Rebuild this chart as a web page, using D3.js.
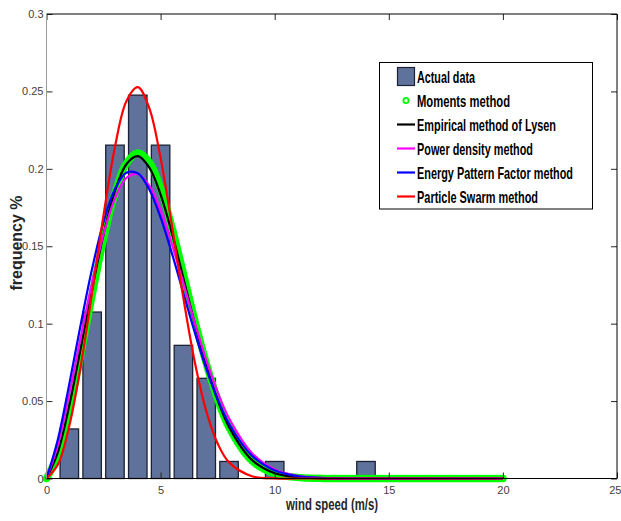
<!DOCTYPE html>
<html>
<head>
<meta charset="utf-8">
<script src="https://cdn.jsdelivr.net/npm/d3@7"></script>
<style>
  body { margin: 0; background: #fff; }
  svg { display: block; }
</style>
</head>
<body>
<script>
// histogram of measured wind speed
let windSpeed = [1, 2, 3, 4, 5, 6, 7, 8, 10, 14];
let frequency = [0.032, 0.1075, 0.2153, 0.2476, 0.2153, 0.086, 0.0647, 0.011, 0.011, 0.011];

// fitted distributions
let curveX = [0, 0.5, 1, 1.5, 2, 2.5, 3, 3.5, 4, 4.5, 5, 5.5, 6, 6.5, 7, 7.5, 8, 9, 10, 11, 12, 14, 16, 18, 20];
let moments = [0, 0.0153, 0.0440, 0.0799, 0.1183, 0.1545, 0.1841, 0.2034, 0.2102, 0.2043, 0.1873, 0.1620, 0.1323, 0.1021, 0.0744, 0.0511, 0.0330, 0.0115, 0.0031, 0.0007, 0.0001, 0, 0, 0, 0];
let lysen = [0, 0.0170, 0.0473, 0.0841, 0.1224, 0.1576, 0.1856, 0.2030, 0.2082, 0.2010, 0.1834, 0.1583, 0.1293, 0.1000, 0.0732, 0.0507, 0.0332, 0.0120, 0.0034, 0.0008, 0.0001, 0, 0, 0, 0];
let powerDensity = [0, 0.0218, 0.0547, 0.0912, 0.1268, 0.1577, 0.1809, 0.1941, 0.1966, 0.1891, 0.1731, 0.1511, 0.1260, 0.1004, 0.0765, 0.0558, 0.0389, 0.0165, 0.0058, 0.0017, 0.0004, 0, 0, 0, 0];
let energyPattern = [0, 0.0253, 0.0611, 0.0995, 0.1356, 0.1658, 0.1870, 0.1975, 0.1971, 0.1868, 0.1686, 0.1452, 0.1196, 0.0942, 0.0710, 0.0512, 0.0354, 0.0148, 0.0052, 0.0015, 0.0004, 0, 0, 0, 0];
let particleSwarm = [0, 0.0090, 0.0341, 0.0725, 0.1201, 0.1701, 0.2141, 0.2437, 0.2528, 0.2394, 0.2069, 0.1629, 0.1163, 0.0751, 0.0436, 0.0226, 0.0104, 0.0015, 0.0001, 0, 0, 0, 0, 0, 0];

let xTicks = [0, 5, 10, 15, 20, 25];
let xTickLabels = ["0", "5", "10", "15", "20", "25"];
let yTicks = [0, 0.05, 0.1, 0.15, 0.2, 0.25, 0.3];
let yTickLabels = ["0", "0.05", "0.1", "0.15", "0.2", "0.25", "0.3"];

let legendNames = ["Actual data", "Moments  method", "Empirical method of Lysen", "Power density method", "Energy Pattern Factor method", "Particle Swarm method"];

let barColor = "#5f729b";
let narrow = "'Liberation Sans Narrow', 'Arial Narrow', 'Liberation Sans', Arial, sans-serif";
let bold = "'Liberation Sans', Arial, sans-serif";

let svg = d3.select("body").append("svg")
    .attr("width", 621)
    .attr("height", 521);

let x = d3.scaleLinear().domain([0, 25]).range([46.5, 617]);
let y = d3.scaleLinear().domain([0, 0.3]).range([478.5, 14]);

// bars
let barW = x(0.81) - x(0);
svg.append("g").selectAll("rect")
    .data(windSpeed)
    .join("rect")
    .attr("x", d => x(d) - barW / 2)
    .attr("y", (d, i) => y(frequency[i]))
    .attr("width", barW)
    .attr("height", (d, i) => y(0) - y(frequency[i]))
    .attr("fill", barColor)
    .attr("stroke", "#1c2233")
    .attr("stroke-width", 1.3);

// helper for the fitted curves
let line = d3.line()
    .x((d, i) => x(curveX[i]))
    .y(d => y(d))
    .curve(d3.curveCatmullRom.alpha(0.5));

// moments method: chain of green circles
svg.append("path")
    .datum(moments)
    .attr("d", line)
    .attr("fill", "none")
    .attr("stroke", "#00ff00")
    .attr("stroke-width", 7.5)
    .attr("stroke-linecap", "round")
    .attr("stroke-dasharray", "0 3");

let curves = [
    {data: lysen, color: "#000000"},
    {data: powerDensity, color: "#ff00ff"},
    {data: energyPattern, color: "#0000ff"},
    {data: particleSwarm, color: "#ff0000"}
];

curves.forEach(c =>
    svg.append("path")
    .datum(c.data)
    .attr("d", line)
    .attr("fill", "none")
    .attr("stroke", c.color)
    .attr("stroke-width", 2.2)
);

// axes (MATLAB style, ticks inside)
let xAxis = svg.append("g")
    .attr("transform", "translate(0," + y(0) + ")")
    .call(d3.axisBottom(x).tickValues(xTicks).tickFormat((d, i) => xTickLabels[i]).tickSize(-6).tickPadding(8));
let xAxisTop = svg.append("g")
    .attr("transform", "translate(0," + y(0.3) + ")")
    .call(d3.axisTop(x).tickValues(xTicks).tickFormat("").tickSize(-6));
let yAxis = svg.append("g")
    .attr("transform", "translate(" + x(0) + ",0)")
    .call(d3.axisLeft(y).tickValues(yTicks).tickFormat((d, i) => yTickLabels[i]).tickSize(-6).tickPadding(3));
let yAxisRight = svg.append("g")
    .attr("transform", "translate(" + x(25) + ",0)")
    .call(d3.axisRight(y).tickValues(yTicks).tickFormat("").tickSize(-6));

[xAxis, xAxisTop, yAxis, yAxisRight].forEach(a => {
    a.select(".domain").remove();
    a.selectAll(".tick line").attr("stroke", "#262626");
    a.selectAll("text")
        .attr("font-family", narrow)
        .attr("font-size", 11)
        .attr("fill", "#404040");
});

// last x label sits right at the figure edge
xAxis.selectAll(".tick text").filter((d, i) => i === xTicks.length - 1)
    .attr("text-anchor", "end")
    .attr("dx", 4);

// box
svg.append("line").attr("x1", x(0)).attr("x2", x(25)).attr("y1", y(0.3)).attr("y2", y(0.3)).attr("stroke", "#000");
svg.append("line").attr("x1", x(25)).attr("x2", x(25)).attr("y1", y(0.3)).attr("y2", y(0)).attr("stroke", "#000");
svg.append("line").attr("x1", x(0)).attr("x2", x(25)).attr("y1", y(0)).attr("y2", y(0)).attr("stroke", "#000");
svg.append("line").attr("x1", x(0)).attr("x2", x(0)).attr("y1", y(0.3)).attr("y2", y(0)).attr("stroke", "#999");

// axis titles
svg.append("text")
    .attr("x", 332)
    .attr("y", 510)
    .attr("text-anchor", "middle")
    .attr("font-family", bold)
    .attr("font-weight", "bold")
    .attr("font-size", 16)
    .attr("textLength", 92)
    .attr("lengthAdjust", "spacingAndGlyphs")
    .attr("fill", "#262626")
    .text("wind speed (m/s)");

svg.append("text")
    .attr("transform", "translate(22,243) rotate(-90)")
    .attr("text-anchor", "middle")
    .attr("font-family", bold)
    .attr("font-weight", "bold")
    .attr("font-size", 16)
    .attr("fill", "#262626")
    .text("frequency %");

// legend
let legend = svg.append("g");
legend.append("rect")
    .attr("x", 379.5).attr("y", 62.5)
    .attr("width", 213).attr("height", 146.5)
    .attr("fill", "#fff")
    .attr("stroke", "#000")
    .attr("stroke-width", 1);

let legendWidths = [58, 93, 139, 116, 156, 121];
let legendColors = [barColor, "#00ff00", "#000000", "#ff00ff", "#0000ff", "#ff0000"];

legendNames.forEach((name, i) => {
    let cy = 76.5 + i * 24;
    if (i === 0) {
        legend.append("rect")
            .attr("x", 397.5).attr("y", cy - 9)
            .attr("width", 17).attr("height", 18)
            .attr("fill", barColor)
            .attr("stroke", "#1c2233")
            .attr("stroke-width", 1.2);
    } else if (i === 1) {
        legend.append("circle")
            .attr("cx", 406).attr("cy", cy)
            .attr("r", 2.6)
            .attr("fill", "none")
            .attr("stroke", "#00ff00")
            .attr("stroke-width", 1.8);
    } else {
        legend.append("line")
            .attr("x1", 397).attr("x2", 415)
            .attr("y1", cy).attr("y2", cy)
            .attr("stroke", legendColors[i])
            .attr("stroke-width", 2.2);
    }
    legend.append("text")
        .attr("x", 417)
        .attr("y", cy + 6)
        .attr("font-family", bold)
        .attr("font-weight", "bold")
        .attr("font-size", 17)
        .attr("textLength", legendWidths[i])
        .attr("lengthAdjust", "spacingAndGlyphs")
        .attr("fill", "#000")
        .text(name);
});
</script>
</body>
</html>
